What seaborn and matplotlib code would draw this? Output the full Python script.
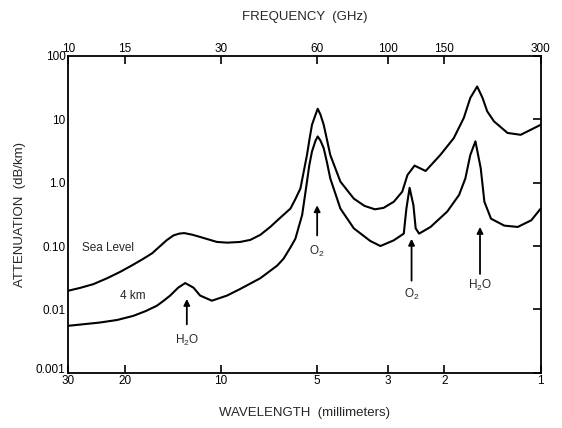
import matplotlib
matplotlib.use("Agg")
import matplotlib.pyplot as plt
from matplotlib.transforms import ScaledTranslation
import seaborn as sns
import pandas as pd

# ---- data (wavelength in mm, attenuation in dB/km) ----
wl_sea = [30, 27.57, 25.05, 22.69, 20.67, 18.95, 17.47, 16.40, 15.48, 14.76, 14.07,
          13.50, 13.02, 12.30, 11.61, 10.29, 9.55, 8.70, 8.09, 7.53, 7.01, 6.52,
          6.06, 5.85, 5.64, 5.38, 5.29, 5.19, 5.06, 4.98, 4.88, 4.77, 4.66, 4.55,
          4.23, 3.84, 3.556, 3.30, 3.10, 2.88, 2.71, 2.61, 2.48, 2.29, 2.06,
          1.87, 1.74, 1.66, 1.58, 1.52, 1.47, 1.40, 1.27, 1.155, 1.0]
att_sea = [0.0197, 0.0218, 0.025, 0.031, 0.039, 0.0496, 0.063, 0.0769, 0.10, 0.124, 0.147,
           0.157, 0.16, 0.151, 0.139, 0.116, 0.113, 0.116, 0.125, 0.15, 0.20, 0.28,
           0.39, 0.55, 0.81, 2.74, 4.7, 8.2, 11.8, 14.7, 11.8, 8.2, 4.8, 2.74,
           1.04, 0.56, 0.43, 0.38, 0.40, 0.50, 0.72, 1.32, 1.86, 1.53, 2.74,
           5.05, 10.5, 21.8, 33.0, 21.8, 13.4, 9.3, 6.1, 5.7, 8.2]

wl_4km = [30, 23.87, 21.1, 18.78, 17.18, 15.86, 15.15, 14.41, 13.60, 12.93, 12.18,
          11.61, 10.67, 9.57, 8.70, 7.53, 6.67, 6.37, 6.06, 5.85, 5.57, 5.38, 5.29,
          5.19, 5.06, 4.98, 4.88, 4.77, 4.66, 4.55, 4.23, 3.84, 3.41, 3.17, 2.88,
          2.68, 2.63, 2.57, 2.50, 2.46, 2.40, 2.21, 1.96, 1.80, 1.72, 1.66, 1.60,
          1.54, 1.50, 1.43, 1.30, 1.18, 1.07, 1.0]
att_4km = [0.0055, 0.0062, 0.0068, 0.0079, 0.0094, 0.0114, 0.0135, 0.0165, 0.022, 0.026, 0.022,
           0.0165, 0.0137, 0.0165, 0.021, 0.031, 0.049, 0.063, 0.095, 0.13, 0.31, 1.04, 1.9,
           3.1, 4.6, 5.37, 4.6, 3.5, 2.1, 1.17, 0.39, 0.19, 0.12, 0.10, 0.123,
           0.157, 0.39, 0.83, 0.44, 0.19, 0.157, 0.20, 0.35, 0.64, 1.17, 2.74, 4.5,
           1.69, 0.5, 0.27, 0.21, 0.20, 0.255, 0.39]

series_names = ["Sea Level", "4 km"]

wl_ticks = [30, 20, 10, 5, 3, 2, 1]
wl_ticklabels = ["30", "20", "10", "5", "3", "2", "1"]
freq_ticks = [10, 15, 30, 60, 100, 150, 300]
freq_ticklabels = ["10", "15", "30", "60", "100", "150", "300"]
att_ticks = [0.001, 0.01, 0.1, 1, 10, 100]
att_ticklabels = ["0.001", "0.01", "0.10", "1.0", "10", "100"]

df = pd.concat([
    pd.DataFrame({"wavelength": wl_sea, "attenuation": att_sea, "series": series_names[0]}),
    pd.DataFrame({"wavelength": wl_4km, "attenuation": att_4km, "series": series_names[1]}),
], ignore_index=True)

# ---- style ----
sns.set_style("white")
plt.rcParams["font.family"] = ["Liberation Sans", "DejaVu Sans"]
plt.rcParams["mathtext.fontset"] = "custom"
plt.rcParams["mathtext.rm"] = "Liberation Sans"
plt.rcParams["mathtext.it"] = "Liberation Sans"
plt.rcParams["mathtext.default"] = "rm"

fig = plt.figure(figsize=(5.62, 4.28), dpi=100)
ax = fig.add_axes([68.3 / 562, 1 - 372.7 / 428, (540.7 - 68.3) / 562, (372.7 - 56) / 428])

sns.lineplot(data=df, x="wavelength", y="attenuation", hue="series",
             palette={"Sea Level": "black", "4 km": "black"},
             estimator=None, sort=False, legend=False, linewidth=1.5, ax=ax)
for ln in ax.get_lines():
    ln.set_solid_joinstyle("round")

ax.set_xscale("log")
ax.set_yscale("log")
ax.set_xlim(30, 1)
ax.set_ylim(0.001, 100)
ax.set_xticks(wl_ticks)
ax.set_xticklabels(wl_ticklabels)
ax.set_yticks(att_ticks)
ax.set_yticklabels(att_ticklabels)
ax.minorticks_off()
ax.tick_params(axis="both", which="major", direction="in", length=6, width=1.2,
               labelsize=8.5, colors="black", pad=2)
ax.tick_params(axis="y", right=True, labelright=False)
for s in ax.spines.values():
    s.set_color("black")
    s.set_linewidth(1.3)

# nudge the bottom y tick label up so it clears the "30" below it
lab0 = ax.get_yticklabels()[0]
lab0.set_transform(lab0.get_transform() + ScaledTranslation(0, 3 / 72, fig.dpi_scale_trans))

ax.set_xlabel("WAVELENGTH  (millimeters)", fontsize=9.5, labelpad=14)
ax.set_ylabel("ATTENUATION  (dB/km)", fontsize=9.5, labelpad=7)

# top frequency axis (f = 300 / wavelength)
axt = ax.twiny()
axt.set_xscale("log")
axt.set_xlim(300 / 30, 300 / 1)
axt.set_xticks(freq_ticks)
axt.set_xticklabels(freq_ticklabels)
axt.minorticks_off()
axt.tick_params(axis="x", which="major", direction="in", length=6, width=1.2,
                labelsize=8.5, colors="black", pad=1)
axt.set_xlabel("FREQUENCY  (GHz)", fontsize=9.5, labelpad=16)
for s in axt.spines.values():
    s.set_visible(False)

# curve labels
ax.text(27.2, 0.094, "Sea Level", fontsize=8.5, ha="left", va="center")
ax.text(20.7, 0.0163, "4 km", fontsize=8.5, ha="left", va="center")

# absorption line arrows
arrows = [
    ("H$_2$O", 12.78, 0.0146, 0.0058, 0.0032),
    ("O$_2$", 5.0, 0.44, 0.147, 0.082),
    ("O$_2$", 2.534, 0.13, 0.0284, 0.0175),
    ("H$_2$O", 1.548, 0.20, 0.0363, 0.0237),
]
for label, xw, tip, tail, ytxt in arrows:
    ax.annotate("", xy=(xw, tip), xytext=(xw, tail),
                arrowprops=dict(arrowstyle="-|>", color="black", lw=1.3,
                                mutation_scale=9, shrinkA=0, shrinkB=0))
    ax.text(xw, ytxt, label, fontsize=8.5, ha="center", va="center")

fig.savefig("out.png", dpi=100)
